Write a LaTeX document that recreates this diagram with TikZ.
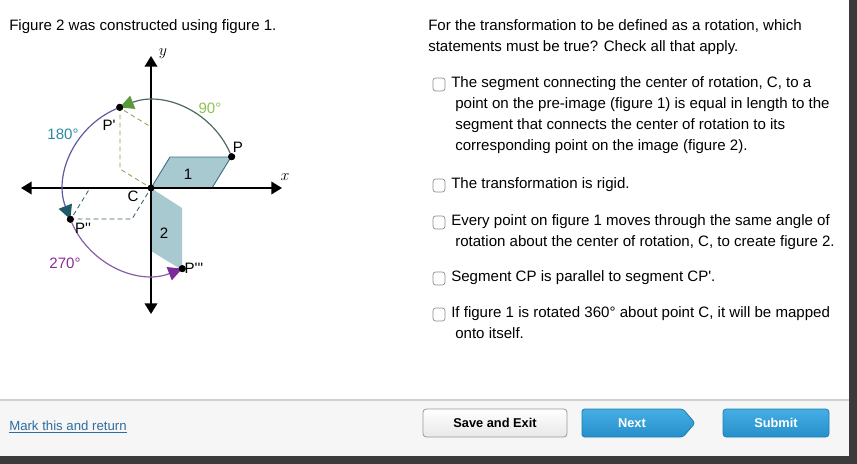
\documentclass[tikz,border=0pt]{standalone}
\usepackage{fontspec}
\setmainfont{Liberation Sans}[Ligatures=TeXOff]
\usetikzlibrary{arrows.meta}

\definecolor{figfill}{HTML}{A9C9D0}
\definecolor{figline}{HTML}{3E7282}
\definecolor{arcgreen}{HTML}{4C6B60}
\definecolor{arcblue}{HTML}{5E5A9E}
\definecolor{arcpurple}{HTML}{8B5BA8}
\definecolor{tipgreen}{HTML}{5B9A3C}
\definecolor{tipteal}{HTML}{1E5A68}
\definecolor{tippurple}{HTML}{7A2C9B}
\definecolor{lblgreen}{HTML}{8DC44B}
\definecolor{lblteal}{HTML}{2D8AA2}
\definecolor{lblpurple}{HTML}{8A2C98}
\definecolor{dasholive}{HTML}{8E9C50}
\definecolor{dashteal}{HTML}{2B5B6B}
\definecolor{linkblue}{HTML}{2E6E9E}
\definecolor{btnblue}{HTML}{45AEE3}
\definecolor{btnbluedark}{HTML}{2790CC}
\definecolor{btnedge}{HTML}{1F7DB4}
\definecolor{footgray}{HTML}{F6F6F6}
\definecolor{darkframe}{HTML}{3B3B3B}

\newcommand\crad{86.5}

\begin{document}
\begin{tikzpicture}[x=0.75pt,y=0.75pt,
  txt/.style={font=\fontsize{11.3}{15.75}\selectfont,anchor=base west,inner sep=0pt,align=left},
  lbl/.style={font=\fontsize{11.3}{13}\selectfont,inner sep=0pt},
  axlbl/.style={font=\fontsize{13}{14}\selectfont,inner sep=0pt},
  dot/.style={circle,fill=black,inner sep=0pt,minimum size=5.2pt},
  axis/.style={line width=1.1pt,{Triangle[width=9.5pt,length=8pt]}-{Triangle[width=9.5pt,length=8pt]}},
  fig/.style={fill=figfill,draw=figline,line width=0.7pt,line join=round},
  dashA/.style={draw=dasholive,line width=0.6pt,dash pattern=on 3.5pt off 2.5pt},
  dashB/.style={draw=dashteal,line width=0.6pt,dash pattern=on 3.5pt off 2.5pt},
  arcA/.style={draw=arcgreen,line width=0.9pt,-{Triangle[width=10.5pt,length=10.5pt,color=tipgreen]}},
  arcB/.style={draw=arcblue,line width=0.9pt,-{Triangle[width=10.5pt,length=10.5pt,color=tipteal]}},
  arcC/.style={draw=arcpurple,line width=0.9pt,-{Triangle[width=10.5pt,length=10.5pt,color=tippurple]}},
  chkbox/.style={draw=black!45,line width=0.5pt,rounded corners=2pt,fill=white},
  btntext/.style={font=\fontsize{9.6}{11}\selectfont\bfseries,inner sep=0pt}]

\useasboundingbox (0,0) rectangle (857,-464);

% footer and frame
\fill[footgray] (0,-400) rectangle (849,-456);
\draw[black!18,line width=0.8pt] (0,-400) -- (849,-400);
\fill[darkframe] (849,0) rectangle (857,-464);
\fill[darkframe] (0,-456) rectangle (857,-464);

% multi-line texts sit on the baseline of their last line
\node[txt] (title) at (9,-30) {Figure 2 was constructed using figure 1.};
\node[txt] (quest) at (428,-51) {For the transformation to be defined as a rotation, which\\statements must be true? Check all that apply.};

\foreach \b in {87,188,225,281,317}
  \draw[chkbox] (433,{9-\b}) rectangle +(12,-13);

\node[txt] (opt1) at (451,-150) {The segment connecting the center of rotation, C, to a\\\hspace*{3pt}point on the pre-image (figure 1) is equal in length to the\\\hspace*{3pt}segment that connects the center of rotation to its\\\hspace*{3pt}corresponding point on the image (figure 2).};
\node[txt] (opt2) at (451,-188) {The transformation is rigid.};
\node[txt] (opt3) at (451,-246) {Every point on figure 1 moves through the same angle of\\\hspace*{3pt}rotation about the center of rotation, C, to create figure 2.};
\node[txt] (opt4) at (451,-281) {Segment CP is parallel to segment CP'.};
\node[txt] (opt5) at (451,-338) {If figure 1 is rotated 360° about point C, it will be mapped\\\hspace*{3pt}onto itself.};

% buttons
\node[txt,font=\fontsize{9.9}{12}\selectfont,text=linkblue] (mark) at (9,-430) {\underline{Mark this and return}};
\draw[black!40,line width=0.6pt,rounded corners=2.5pt,top color=white,bottom color=black!9] (423,-409) rectangle (567,-437);
\node[btntext] (save) at (495,-423) {Save and Exit};
\draw[btnedge,line width=0.6pt,rounded corners=2pt,top color=btnblue,bottom color=btnbluedark] (582,-409) -- (683,-409) -- (695,-423) -- (683,-437) -- (582,-437) -- cycle;
\node[btntext,text=white] (next) at (632,-423) {Next};
\draw[btnedge,line width=0.6pt,rounded corners=2.5pt,top color=btnblue,bottom color=btnbluedark] (723,-409) rectangle (829,-437);
\node[btntext,text=white] (submit) at (776,-423) {Submit};

% rotation diagram
\begin{scope}[shift={(151,-188)}]
\draw[dashA] (0,0) -- (0,61) -- (-31,80) -- (-31,19) -- cycle;
\draw[dashB] (0,0) -- (-61,0) -- (-80,-31) -- (-19,-31) -- cycle;
\fill[figfill] (0,0) -- (0,-63) -- (31,-82) -- (31,-20) -- cycle;
\filldraw[fig] (0,0) -- (61,0) -- (80,31) -- (19,31) -- cycle;

\draw[axis] (-130,0) -- (131,0);
\draw[axis] (0,-126) -- (0,132);
\node[axlbl] (xlab) at (134,11) {$x$};
\node[axlbl] (ylab) at (12,134) {$y$};

\node[dot] (p) at (21.2:\crad) {};
\node[dot] (p1) at (111.2:\crad) {};
\node[dot] (p2) at (201.2:\crad) {};
\node[dot] (p3) at (291.2:\crad) {};
\node[dot] (c) at (0,0) {};

\draw[arcA] (p.center) arc[start angle=21.2,delta angle=90,radius=\crad];
\draw[arcB] (p1.center) arc[start angle=111.2,delta angle=90,radius=\crad];
\draw[arcC] (p2.center) arc[start angle=201.2,delta angle=90,radius=\crad];
\node[dot] at (p) {};
\node[dot] at (p1) {};
\node[dot] at (p2) {};
\node[dot] at (p3) {};

\node[lbl] (plab) at (87,41) {P};
\node[lbl] (p1lab) at (-42,63) {P'};
\node[lbl] (p2lab) at (-68,-40) {P''};
\node[lbl] (p3lab) at (43,-80) {P'''};
\node[lbl] (clab) at (-18,-8) {C};
\node[lbl,text=lblgreen] (a90) at (59,80) {90°};
\node[lbl,text=lblteal] (a180) at (-88,54) {180°};
\node[lbl,text=lblpurple] (a270) at (-86,-75) {270°};
\node[lbl] (one) at (37,14) {1};
\node[lbl] (two) at (13,-45) {2};
\end{scope}

\end{tikzpicture}
\end{document}
